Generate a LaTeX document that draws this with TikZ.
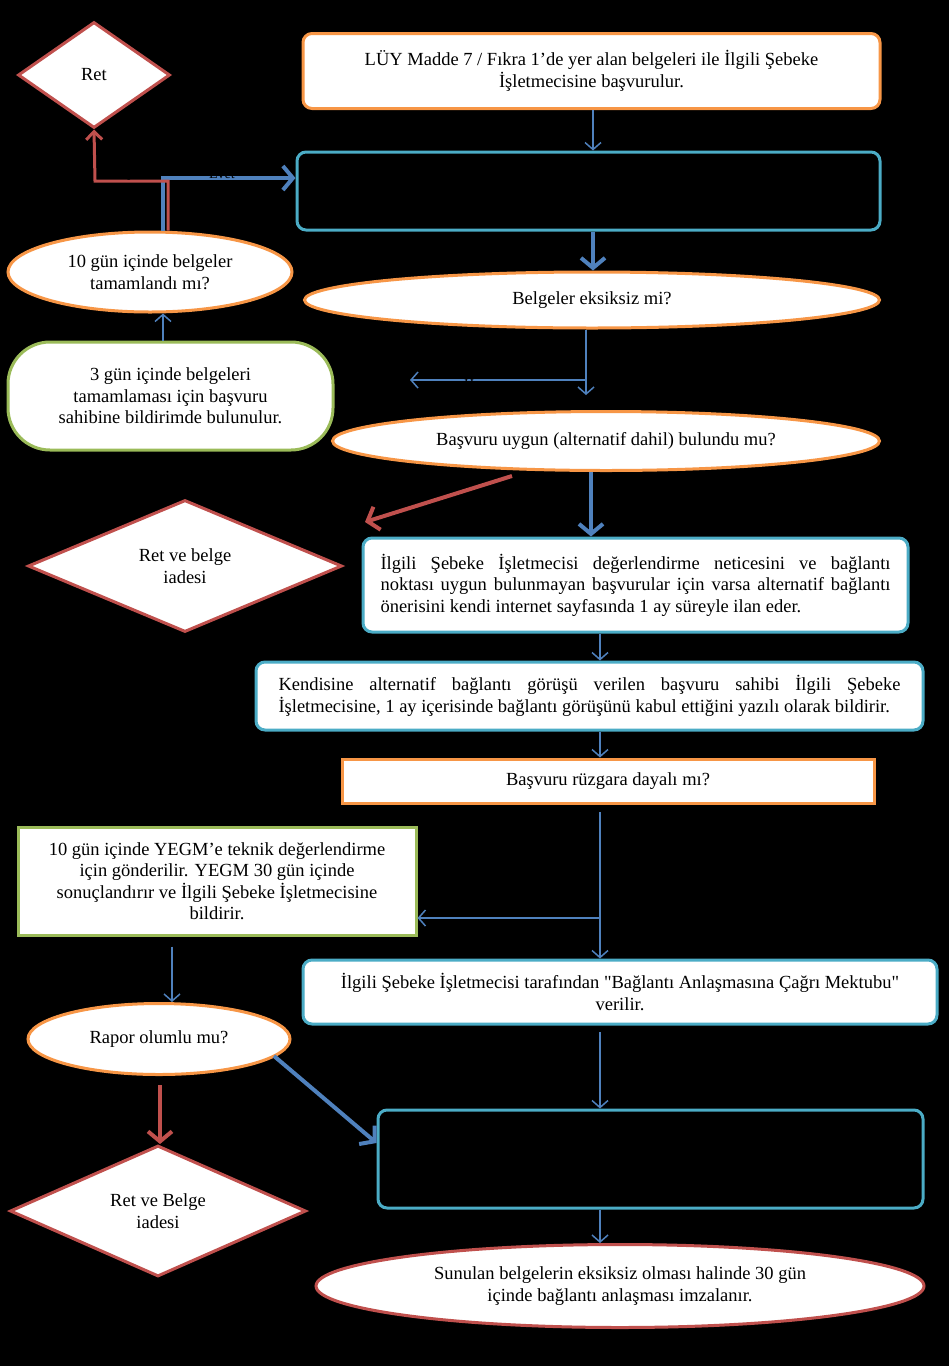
\documentclass[tikz,border=0pt]{standalone}
\usepackage{fontspec}
\setmainfont{Liberation Serif}
\usetikzlibrary{shapes.geometric,arrows.meta}
\definecolor{cblue}{HTML}{4F81BD}
\definecolor{cred}{HTML}{C0504D}
\definecolor{corange}{HTML}{F79646}
\definecolor{cgreen}{HTML}{9BBB59}
\definecolor{ccyan}{HTML}{4BACC6}
\tikzset{
  base/.style={font=\fontsize{18.5}{21.5}\selectfont, inner sep=0pt, align=center},
  cbox/.style={base, rectangle, rounded corners=9pt, draw=ccyan, line width=3pt, fill=white},
  blackbox/.style={base, rectangle, rounded corners=9pt, draw=ccyan, line width=3pt, fill=black, text=black},
  obox/.style={base, rectangle, draw=corange, line width=3pt, fill=white},
  gbox/.style={base, rectangle, draw=cgreen, line width=3pt, fill=white},
  oell/.style={base, ellipse, draw=corange, line width=3pt, fill=white},
  rell/.style={base, ellipse, draw=cred, line width=3pt, fill=white},
  rdia/.style={base, diamond, draw=cred, line width=3pt, fill=white},
  thin/.style={draw=cblue, line width=1.5pt, -{Straight Barb[length=7pt,width=16pt]}},
  thick/.style={draw=cblue, line width=4pt, -{Straight Barb[length=10pt,width=24pt]}},
  redthick/.style={draw=cred, line width=4pt, -{Straight Barb[length=10pt,width=24pt]}},
  redline/.style={draw=cred, line width=3pt, -{Straight Barb[length=8pt,width=16pt]}},
  lbl/.style={font=\fontsize{14}{16}\selectfont, text=black, inner sep=0pt}
}
\begin{document}
\hyphenpenalty=10000\relax
\exhyphenpenalty=10000\relax
\begin{tikzpicture}[x=1pt,y=-1pt]
\fill[black] (0,0) rectangle (949,1366);
\useasboundingbox (0,0) rectangle (949,1366);

% nodes
\node[obox, rounded corners=9pt, minimum width=577pt, minimum height=75pt] (b1) at (591.5,71)
  {LÜY Madde 7 / Fıkra 1'de yer alan belgeleri ile İlgili Şebeke\\İşletmecisine başvurulur.};
\node[blackbox, minimum width=583pt, minimum height=78pt, text width=520pt] (b2) at (588.5,191)
  {Tüm başvurular sıralanır ve en geç 20 gün içinde İlgili\\Şebeke İşletmecisi tarafından değerlendirilir.};
\node[oell, minimum width=575pt, minimum height=56pt] (e3) at (592,300) {Belgeler eksiksiz mi?};
\node[oell, minimum width=547pt, minimum height=59pt] (e4) at (606,441) {Başvuru uygun (alternatif dahil) bulundu mu?};
\node[oell, minimum width=284pt, minimum height=80pt] (e5) at (150,272) {10 gün içinde belgeler\\tamamlandı mı?};
\node[gbox, rounded corners=42pt, minimum width=325pt, minimum height=108pt] (g6) at (170.5,396)
  {3 gün içinde belgeleri\\tamamlaması için başvuru\\sahibine bildirimde bulunulur.};
\node[rdia, minimum width=152pt, minimum height=106pt] (d7) at (94,75) {Ret};
\node[rdia, minimum width=314pt, minimum height=132pt] (d8) at (185,566) {Ret ve belge\\iadesi};
\node[cbox, minimum width=545pt, minimum height=94pt, text width=510pt, align=justify] (b9) at (635.5,585)
  {İlgili Şebeke İşletmecisi değerlendirme neticesini ve bağlantı\linebreak noktası uygun bulunmayan başvurular için varsa alternatif bağlantı\linebreak önerisini kendi internet sayfasında 1 ay süreyle ilan eder.};
\node[cbox, minimum width=667pt, minimum height=68pt, text width=622pt, align=justify] (b10) at (589.5,696)
  {Kendisine alternatif bağlantı görüşü verilen başvuru sahibi İlgili Şebeke\linebreak İşletmecisine, 1 ay içerisinde bağlantı görüşünü kabul ettiğini yazılı olarak bildirir.};
\node[obox, minimum width=532pt, minimum height=44pt] (b11) at (608,781) {Başvuru rüzgara dayalı mı?};
\node[gbox, minimum width=398pt, minimum height=108pt] (g12) at (217,881)
  {10 gün içinde YEGM'e teknik değerlendirme\\için gönderilir. YEGM 30 gün içinde\\sonuçlandırır ve İlgili Şebeke İşletmecisine\\bildirir.};
\node[cbox, minimum width=634pt, minimum height=64pt] (b13) at (620,992)
  {İlgili Şebeke İşletmecisi tarafından \textquotedbl Bağlantı Anlaşmasına Çağrı Mektubu\textquotedbl\\verilir.};
\node[oell, minimum width=262pt, minimum height=71pt] (e14) at (159,1039) {Rapor olumlu mu?};
\node[blackbox, minimum width=545pt, minimum height=98pt, text width=508pt, align=justify] (b15) at (650.5,1159)
  {Çağrı mektubu alan kişiler 180 gün içinde LÜY Madde 9 / Fıkra\linebreak 3'de yer alan belgeler ile beraber İlgili Şebeke İşletmecisine\linebreak bağlantı anlaşması yapmak için başvurur.};
\node[rdia, minimum width=296pt, minimum height=131pt] (d16) at (158,1211) {Ret ve Belge\\iadesi};
\node[rell, minimum width=608pt, minimum height=83pt] (e17) at (620,1286)
  {Sunulan belgelerin eksiksiz olması halinde 30 gün\\içinde bağlantı anlaşması imzalanır.};

% free-end coordinates
\coordinate (j1) at (586,380);
\coordinate (t1) at (586,395);
\coordinate (c1) at (410,380);
\coordinate (r1s) at (512,476);
\coordinate (r1e) at (365,522);
\coordinate (j2) at (600,918);
\coordinate (s2) at (600,812);
\coordinate (s3) at (600,1032);
\coordinate (s4) at (274,1056);

% connectors
\draw[thin] (b1.south -| 593,0) -- (b2.north -| 593,0);
\draw[thick] (b2.south -| 593,0) -- (e3.north -| 593,0);
\draw[thin] (e3.south -| j1) -- (t1);
\draw[thin] (j1) -- (c1);
\draw[thick] (e4.south -| 591,0) -- (b9.north -| 591,0);
\draw[redthick] (r1s) -- (r1e);
\draw[thin] (b9.south -| 600,0) -- (b10.north -| 600,0);
\draw[thin] (b10.south -| 600,0) -- (b11.north -| 600,0);
\draw[thin] (s2) -- (b13.north -| s2);
\draw[thin] (j2) -- (g12.east |- j2);
\draw[thin] (g12.south -| 172,0) ++(0,10) -- (e14.north -| 172,0);
\draw[redthick] (160,1085) -- (d16.north -| 160,0);
\draw[thick] (s4) -- (b15.west |- 0,1143);
\draw[thin] (s3) -- (b15.north -| s3);
\draw[thin] (b15.south -| 600,0) -- (e17.north -| 600,0);
\draw[thin] (g6.north -| 163,0) -- (e5.south -| 163,0);
\draw[thick] (e5.north -| 163,0) -- (163,178) -- (b2.west |- 0,178);
\draw[redline] (e5.north -| 168,0) -- (168,181) -- (95,181) -- (d7.south);

% labels
\node[lbl] (l1) at (127,174) {Hayır};
\node[lbl] (l2) at (222,174) {Evet};
\node[lbl] (l3) at (480,385) {Hayır};
\node[lbl] (l4) at (635,385) {Evet};
\node[lbl] (l5) at (255,493) {Hayır};
\node[lbl] (l6) at (638,520) {Evet};
\node[lbl] (l7) at (497,884) {Evet};
\node[lbl] (l8) at (655,932) {Hayır};
\node[lbl] (l9) at (87,1130) {Hayır};
\node[lbl] (l10) at (310,1122) {Evet};
\end{tikzpicture}
\end{document}
